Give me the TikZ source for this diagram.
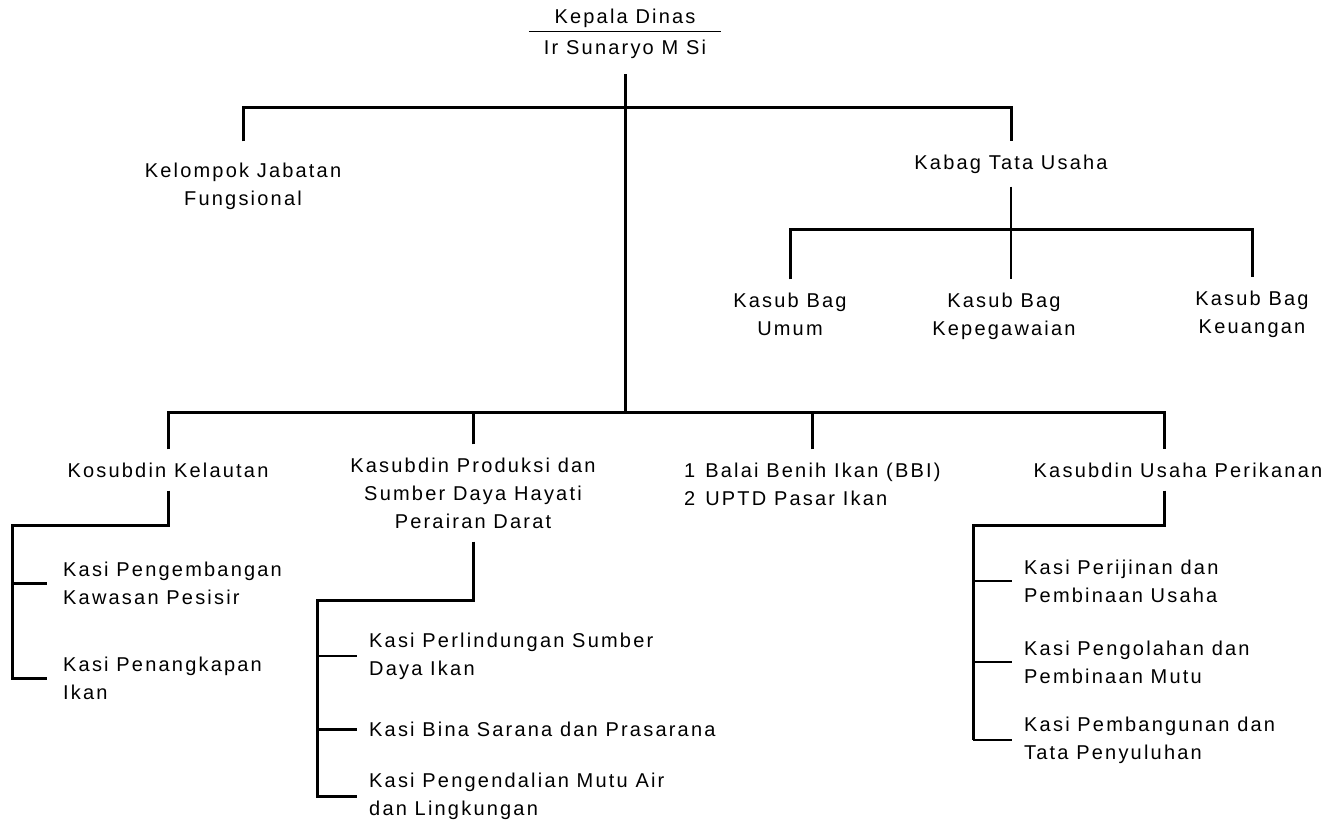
\documentclass[tikz,border=0pt]{standalone}
\usepackage{fontspec}
\setmainfont{Liberation Sans}[LetterSpace=11]
\usetikzlibrary{positioning}

\begin{document}
\begin{tikzpicture}[x=0.5pt,y=-0.5pt,line width=1.2pt,
                    font=\fontsize{10}{14}\selectfont]
  \tikzstyle{unit}=[align=center,inner xsep=0pt,inner ysep=6pt]
  \tikzstyle{kasi}=[align=left,anchor=west,inner xsep=5.5pt,inner ysep=2pt]
  \tikzstyle{link}=[line width=1.5pt]
  \tikzstyle{thinlink}=[line width=0.8pt]

  \useasboundingbox (0,0) rectangle (1344,825);

  \node[unit,anchor=south,minimum width=95pt,inner ysep=1pt] (kadis) at (625,31) {Kepala Dinas};
  \node[unit,inner ysep=0pt] (kadisnm) [below=4pt of kadis] {Ir Sunaryo M Si};

  \node[unit,inner ysep=10pt] (jf)     at (243,186)  {Kelompok Jabatan\\Fungsional};
  \node[unit]                 (kabag)  at (1011,164) {Kabag Tata Usaha};
  \node[unit]                 (umum)   at (790,314)  {Kasub Bag\\Umum};
  \node[unit]                 (kepeg)  at (1004,316) {Kasub Bag\\Kepegawaian};
  \node[unit]                 (keu)    at (1252,314) {Kasub Bag\\Keuangan};

  \node[unit]                 (kel)    at (168,470)  {Kosubdin Kelautan};
  \node[unit]                 (prod)   at (473,493)  {Kasubdin Produksi dan\\Sumber Daya Hayati\\Perairan Darat};
  \node[unit,align=left,anchor=west] (balai) at (683,484) {1\enspace Balai Benih Ikan (BBI)\\2\enspace UPTD Pasar Ikan};
  \node[unit]                 (usaha)  at (1178,470) {Kasubdin Usaha Perikanan};

  \coordinate (topbus)   at (624,107);
  \coordinate (lowbus)   at (624,412);
  \coordinate (kasubbus) at (1011,229);
  \coordinate (kelbus)   at (12,525);
  \coordinate (prodbus)  at (317,600);
  \coordinate (usahabus) at (973,525);

  \node[kasi,inner xsep=7.5pt] (pesisir) at (47,583)   {Kasi Pengembangan\\Kawasan Pesisir};
  \node[kasi,inner xsep=7.5pt] (ikan)    at (47,678)   {Kasi Penangkapan\\Ikan};
  \node[kasi]                  (sdi)     at (357,656)  {Kasi Perlindungan Sumber\\Daya Ikan};
  \node[kasi]                  (bina)    at (357,729)  {Kasi Bina Sarana dan Prasarana};
  \node[kasi]                  (mutu)    at (357,796)  {Kasi Pengendalian Mutu Air\\dan Lingkungan};
  \node[kasi]                  (izin)    at (1012,581) {Kasi Perijinan dan\\Pembinaan Usaha};
  \node[kasi]                  (olah)    at (1012,662) {Kasi Pengolahan dan\\Pembinaan Mutu};
  \node[kasi]                  (bangun)  at (1012,740) {Kasi Pembangunan dan\\Tata Penyuluhan};

  \draw[thin] (kadis.south west) -- (kadis.south east);
  \draw[link,shorten <=7pt] (kadisnm.south) -- (kadisnm.south |- lowbus);
  \draw[link] (jf.north) |- (topbus) -| (kabag.north);
  \draw[thinlink] (kabag.south) -- (kabag.south |- kepeg.north);
  \draw[link] (umum.north) |- (kasubbus) -| (keu.north);

  \draw[link] (kel.north) |- (lowbus) -| ([xshift=-7pt]usaha.north);
  \draw[link] (prod.north) -- (prod.north |- lowbus);
  \draw[link] (balai.north) -- (balai.north |- lowbus);

  \draw[link] (kel.south) |- (kelbus) |- (ikan.west);
  \draw[link] (kelbus |- pesisir.west) -- (pesisir.west);

  \draw[link] (prod.south) |- (prodbus) |- (mutu.west);
  \draw[thinlink] (prodbus |- sdi.west) -- (sdi.west);
  \draw[link] (prodbus |- bina.west) -- (bina.west);

  \draw[link] ([xshift=-7pt]usaha.south) |- (usahabus) -- (usahabus |- bangun.west);
  \foreach \n in {izin,olah,bangun}
    \draw[thinlink] (usahabus |- \n.west) -- (\n.west);
\end{tikzpicture}
\end{document}
